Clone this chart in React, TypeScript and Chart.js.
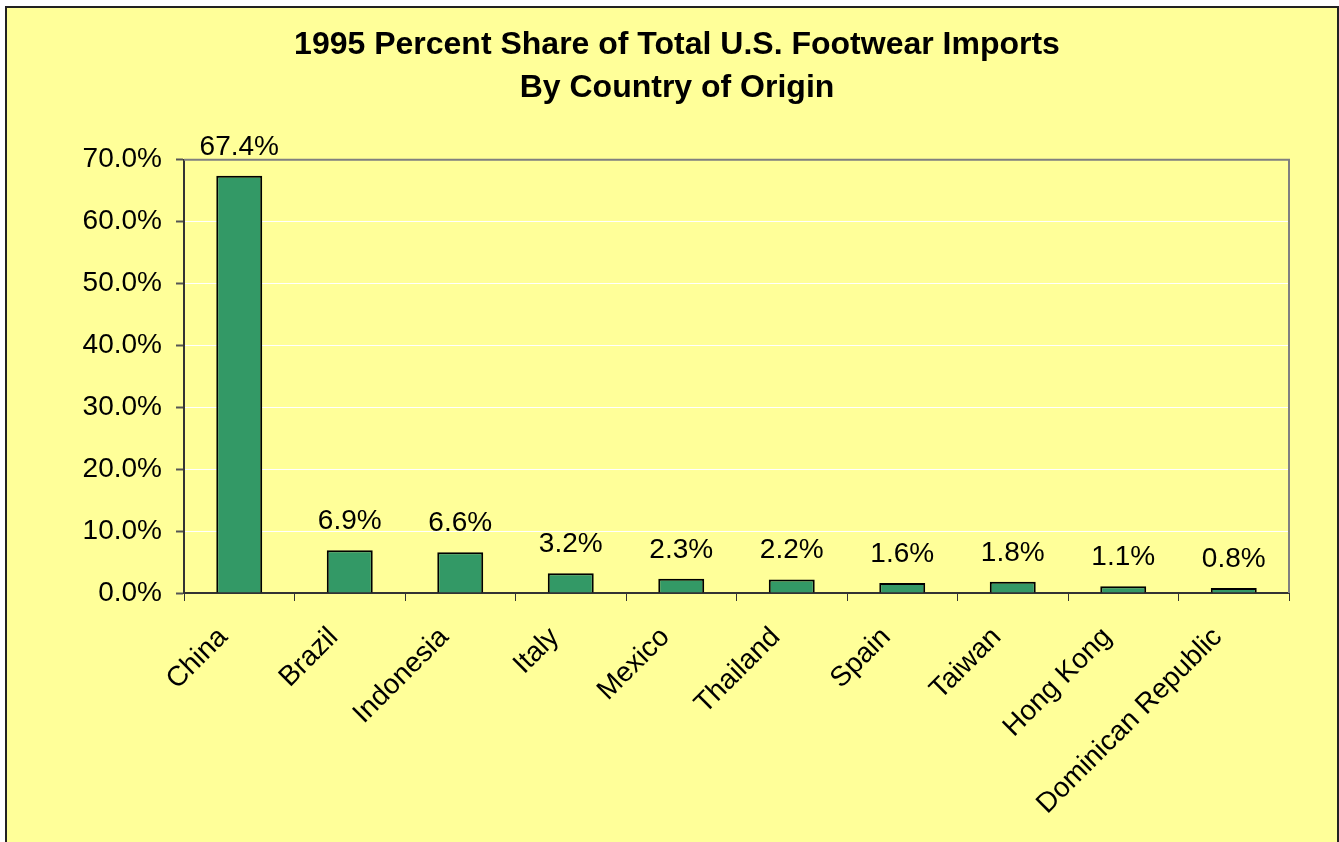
import React, { useEffect, useRef } from "react";
import { Chart, registerables } from "chart.js";

Chart.register(...registerables);

const titleLines = ["1995 Percent Share of Total U.S. Footwear Imports", "By Country of Origin"];
const countries = ["China", "Brazil", "Indonesia", "Italy", "Mexico", "Thailand", "Spain", "Taiwan", "Hong Kong", "Dominican Republic"];
const shares = [67.4, 6.9, 6.6, 3.2, 2.3, 2.2, 1.6, 1.8, 1.1, 0.8];
const yMin = 0;
const yMax = 70;
const yStep = 10;

const FONT = "'Liberation Sans', Arial, Helvetica, sans-serif";

const W = 1339;
const H = 842;
const PAD_LEFT = 65;
const PLOT_LEFT = 184;
const PLOT_RIGHT = 1289;
const PLOT_BOTTOM = 593;

const labelPlugin = {
  id: "barLabels",
  afterDatasetsDraw(chart: any) {
    const ctx = chart.ctx;
    const meta = chart.getDatasetMeta(0);
    ctx.save();
    ctx.font = `28px ${FONT}`;
    ctx.fillStyle = "#000";
    ctx.textAlign = "center";
    ctx.textBaseline = "alphabetic";
    meta.data.forEach((el: any, i: number) => {
      ctx.fillText(shares[i].toFixed(1) + "%", el.x, el.y - 21);
    });
    ctx.restore();
  },
  afterDraw(chart: any) {
    const { ctx, chartArea } = chart;
    ctx.save();
    ctx.strokeStyle = "#808080";
    ctx.lineWidth = 2;
    ctx.beginPath();
    ctx.moveTo(chartArea.left, chartArea.top);
    ctx.lineTo(chartArea.right, chartArea.top);
    ctx.lineTo(chartArea.right, chartArea.bottom);
    ctx.stroke();
    ctx.restore();
  },
};

export default function App() {
  const ref = useRef<HTMLCanvasElement | null>(null);
  useEffect(() => {
    if (!ref.current) return;
    const chart = new Chart(ref.current, {
      type: "bar",
      data: {
        labels: countries,
        datasets: [
          {
            data: shares,
            backgroundColor: "#339966",
            borderColor: "#000000",
            borderWidth: 2,
            barPercentage: 0.416,
            categoryPercentage: 1,
          },
        ],
      },
      options: {
        responsive: false,
        animation: false,
        layout: { padding: { left: PAD_LEFT, right: W - PLOT_RIGHT, top: 0, bottom: 0 } },
        plugins: {
          legend: { display: false },
          tooltip: { enabled: false },
          title: {
            display: true,
            text: titleLines,
            color: "#000",
            font: { family: FONT, size: 32, weight: "bold", lineHeight: 1.34 },
            padding: { top: 24, bottom: 50 },
          },
        },
        scales: {
          x: {
            afterFit: (s: any) => {
              s.height = H - PLOT_BOTTOM;
            },
            grid: {
              offset: true,
              drawOnChartArea: false,
              drawTicks: true,
              tickLength: 8,
              tickColor: "#333",
              tickWidth: 1,
            },
            border: { display: true, color: "#333", width: 2 },
            ticks: {
              color: "#000",
              font: { family: FONT, size: 28 },
              minRotation: 45,
              maxRotation: 45,
              autoSkip: false,
              padding: 20,
              labelOffset: -16,
            },
          },
          y: {
            min: yMin,
            max: yMax,
            afterFit: (s: any) => {
              s.width = PLOT_LEFT - PAD_LEFT;
            },
            grid: {
              color: "#FFFFFF",
              lineWidth: 1,
              tickColor: "#555",
              tickLength: 8,
              tickWidth: 2,
            },
            border: { display: true, color: "#333", width: 2 },
            ticks: {
              stepSize: yStep,
              color: "#000",
              font: { family: FONT, size: 28 },
              padding: 14,
              callback: (v: any) => Number(v).toFixed(1) + "%",
            },
          },
        },
      },
      plugins: [labelPlugin],
    });
    return () => chart.destroy();
  }, []);

  return (
    <div style={{ position: "absolute", left: 0, top: 0, width: 1339, height: 842, overflow: "hidden", background: "#fff" }}>
      <div
        style={{
          position: "absolute",
          left: 5,
          top: 6,
          width: 1330,
          height: 860,
          border: "2px solid #222",
          background: "#FFFF99",
        }}
      />
      <canvas ref={ref} width={W} height={H} style={{ position: "absolute", left: 0, top: 0, width: W, height: H }} />
    </div>
  );
}
